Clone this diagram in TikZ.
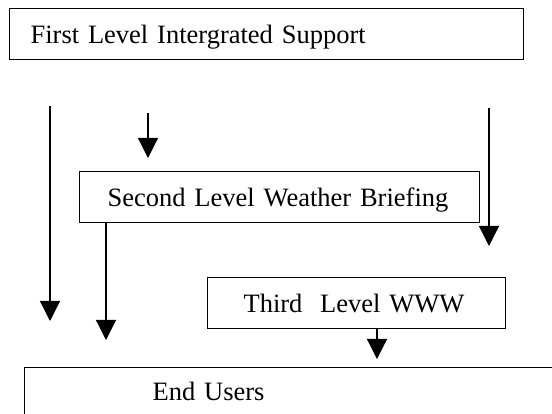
\documentclass[tikz,border=0pt]{standalone}
\usepackage{fontspec}
\setmainfont{Liberation Serif}
\usetikzlibrary{arrows.meta}
\begin{document}
\begin{tikzpicture}[x=1pt,y=-1pt,
  lvlbox/.style={draw=black,line width=1.2pt,rectangle,inner sep=0pt,
    text height=19pt,text depth=0pt,
    font=\fontsize{26.5}{30}\selectfont},
  flow/.style={line width=1.2pt,-{Triangle[length=20pt,width=20pt]}}]
\useasboundingbox (0,0) rectangle (552,414);
\clip (0,0) rectangle (552,414);
\fill[white] (0,0) rectangle (552,414);
% boxes
\node[lvlbox,anchor=north west,minimum width=514pt,minimum height=51pt,
  text width=472pt,align=left,inner xsep=21pt] (b1) at (9,8) {First Level Intergrated Support};
\node[lvlbox,anchor=north west,minimum width=400pt,minimum height=51pt,
  text width=344pt,align=left,inner xsep=28pt] (b2) at (79,171) {Second Level Weather Briefing};
\node[lvlbox,anchor=north west,minimum width=298pt,minimum height=51pt,
  text width=226pt,align=left,inner xsep=36pt] (b3) at (207,277) {Third\ \ Level WWW};
\node[lvlbox,anchor=north west,minimum width=600pt,minimum height=48pt,
  text height=18pt,text width=344pt,align=left,inner xsep=128pt] (b4) at (24,367) {End Users};
% connector coordinates
\coordinate (a1s) at (50,106);
\coordinate (a1e) at (50,321);
\coordinate (a2s) at (148,113);
\coordinate (a2e) at (148,158);
\coordinate (a3s) at (489,108);
\coordinate (a3e) at (489,246);
\coordinate (a4s) at (106,222);
\coordinate (a4e) at (106,340);
\coordinate (a5s) at (377,328);
\coordinate (a5e) at (377,359);
\draw[flow] (a1s) -- (a1e);
\draw[flow] (a2s) -- (a2e);
\draw[flow] (a3s) -- (a3e);
\draw[flow] (a4s) -- (a4e);
\draw[flow] (a5s) -- (a5e);
\end{tikzpicture}
\end{document}
